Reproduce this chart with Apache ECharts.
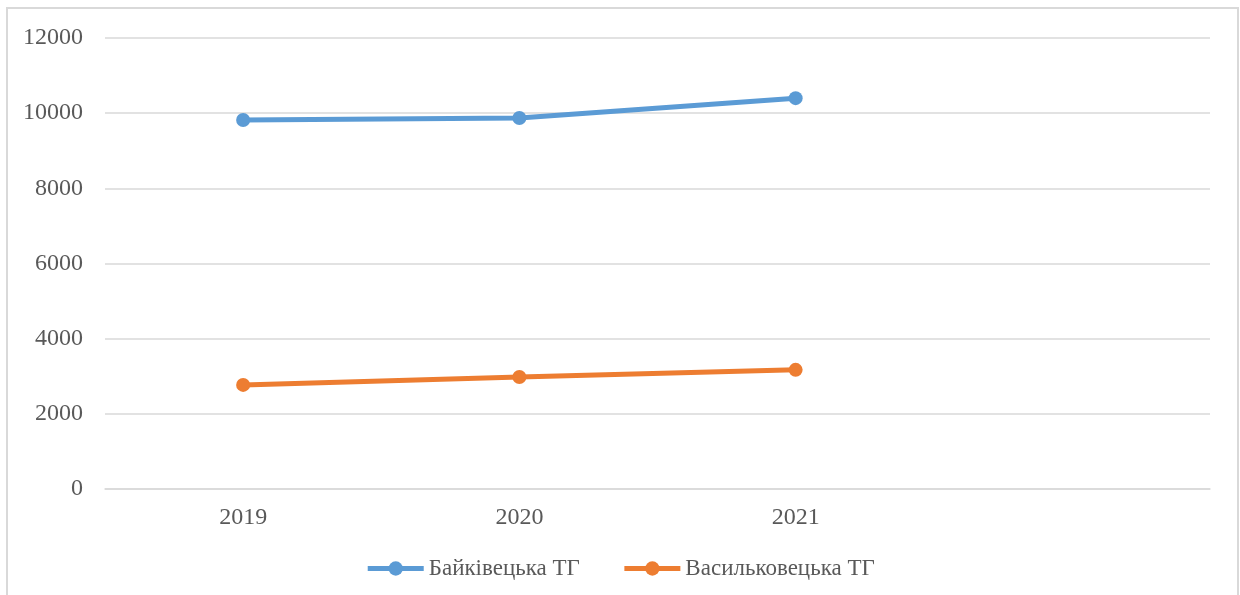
<!DOCTYPE html>
<html>
<head>
<meta charset="utf-8">
<script src="https://cdn.jsdelivr.net/npm/echarts@6/dist/echarts.min.js"></script>
<style>
  html, body { margin: 0; padding: 0; background: #fff; }
  #chart { width: 1240px; height: 595px; }
</style>
</head>
<body>
<div id="chart"></div>
<script>
var years = ['2019', '2020', '2021', ''];
var seriesNames = ['Байківецька ТГ', 'Васильковецька ТГ'];
var baikivtsi = [9820, 9870, 10400, null];
var vasylkivtsi = [2770, 2980, 3170, null];
var colors = ['#5b9bd5', '#ed7d31'];

var chart = echarts.init(document.getElementById('chart'));
var font = 'Liberation Serif';

chart.setOption({
    animation: false,
    graphic: [{
        type: 'rect',
        shape: { x: 7, y: 8, width: 1231, height: 600 },
        style: { fill: 'none', stroke: '#d9d9d9', lineWidth: 2 },
        silent: true
    }],
    legend: {
        bottom: 10,
        left: 'center',
        itemWidth: 56,
        itemHeight: 18,
        itemGap: 42,
        textStyle: { color: '#595959', fontFamily: font, fontSize: 23 },
        lineStyle: { width: 5 },
        data: seriesNames
    },
    grid: { left: 105, right: 30, top: 38, bottom: 106 },
    xAxis: {
        type: 'category',
        data: years,
        boundaryGap: true,
        axisLine: { show: true, lineStyle: { color: '#d9d9d9', width: 1.5 } },
        axisTick: { show: false },
        axisLabel: { color: '#595959', fontFamily: font, fontSize: 24, margin: 17 }
    },
    yAxis: {
        type: 'value',
        min: 0,
        max: 12000,
        interval: 2000,
        axisLine: { show: false },
        axisTick: { show: false },
        axisLabel: {
            color: '#595959', fontFamily: font, fontSize: 24, margin: 22,
            formatter: function (v) { return String(v); }
        },
        splitLine: { lineStyle: { color: '#d9d9d9', width: 1.5 } }
    },
    series: [
        {
            name: seriesNames[0],
            type: 'line',
            data: baikivtsi,
            symbol: 'circle',
            symbolSize: 14,
            lineStyle: { width: 5, color: colors[0] },
            itemStyle: { color: colors[0] }
        },
        {
            name: seriesNames[1],
            type: 'line',
            data: vasylkivtsi,
            symbol: 'circle',
            symbolSize: 14,
            lineStyle: { width: 5, color: colors[1] },
            itemStyle: { color: colors[1] }
        }
    ]
});
</script>
</body>
</html>
